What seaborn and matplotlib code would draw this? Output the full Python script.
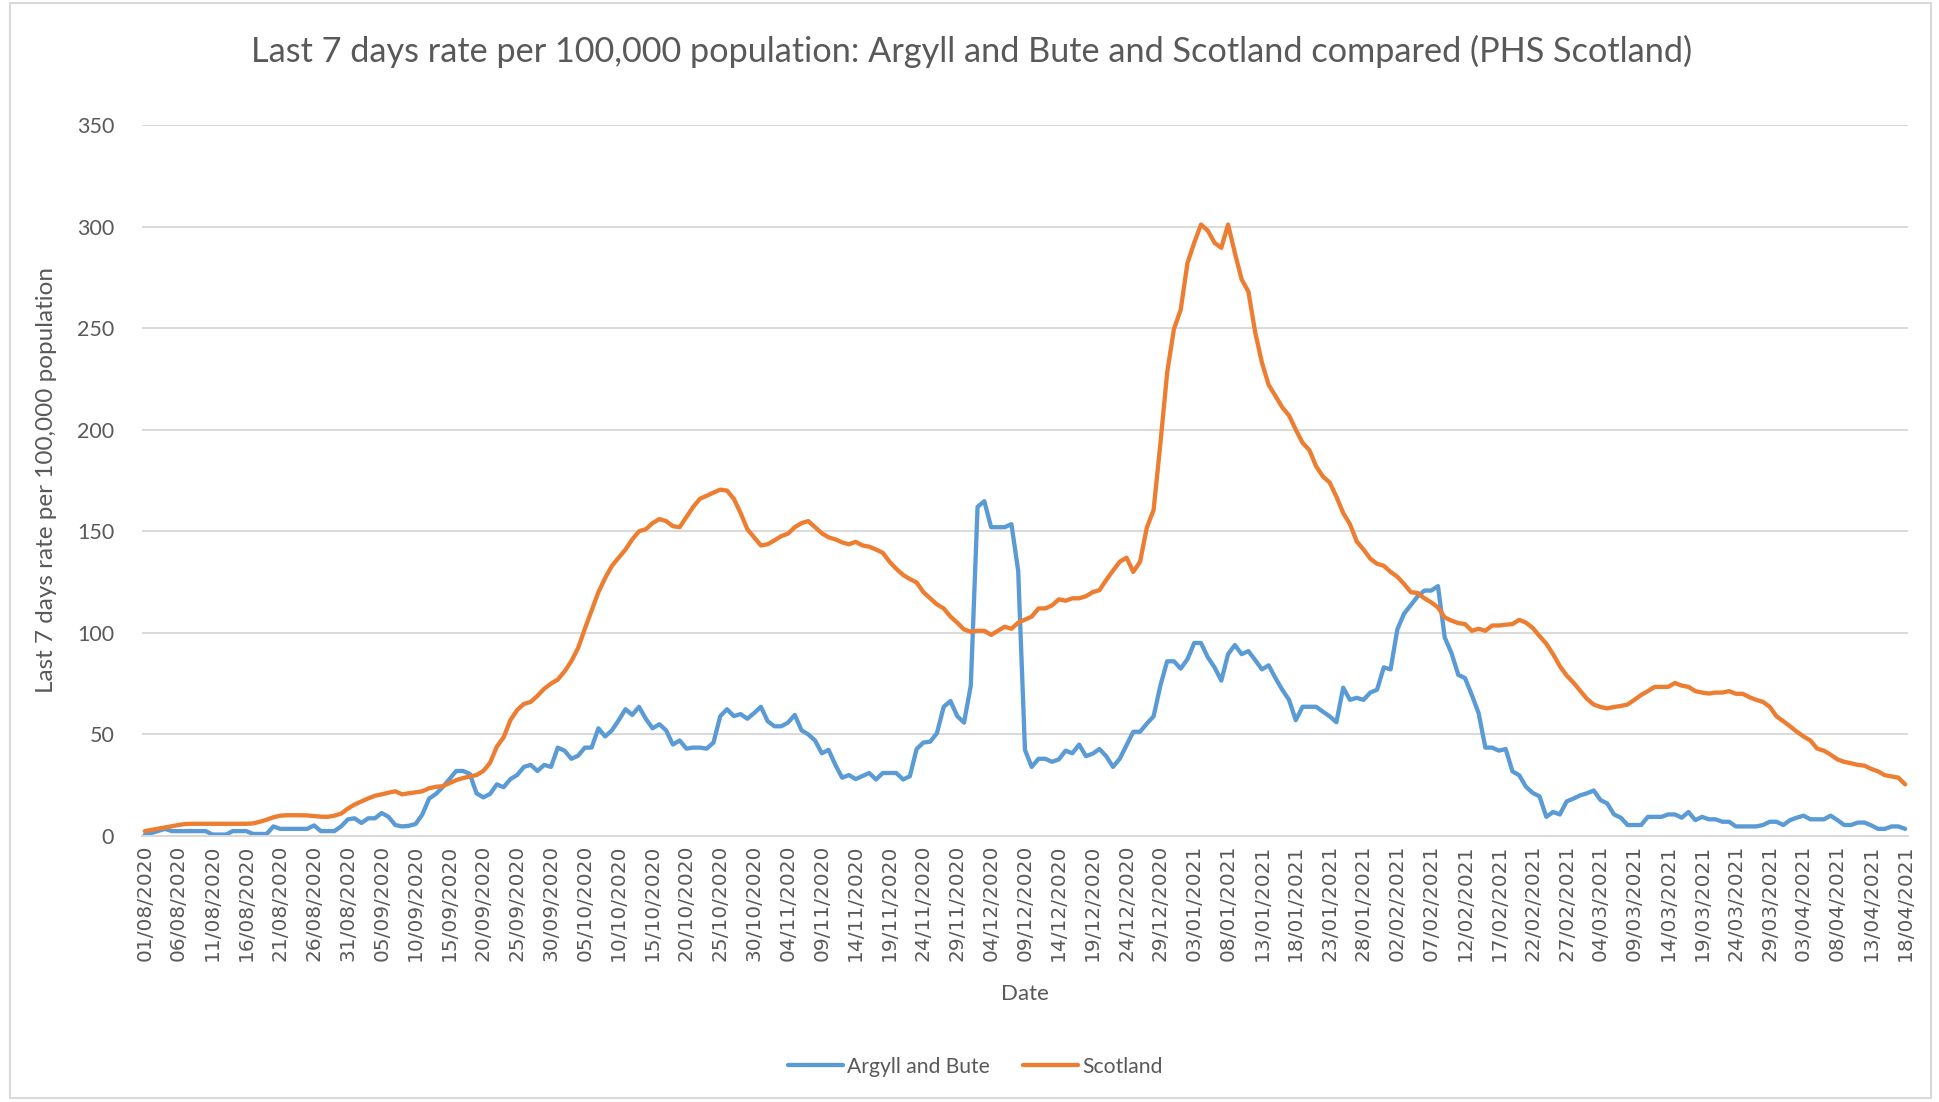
import pandas as pd
import numpy as np
import matplotlib.pyplot as plt
import matplotlib.dates as mdates
from matplotlib.patches import Rectangle
import seaborn as sns

# --- DATA (one value per day) ---
START_DATE = '2020-08-01'
END_DATE = '2021-04-18'

argyll_bute = [
    0.5, 1.5, 2.5, 3.5, 2.4, 2.4, 2.4, 2.4, 2.4, 2.4,
    0.7, 0.7, 0.7, 2.4, 2.4, 2.4, 1.0, 1.0, 1.0, 4.7,
    3.5, 3.5, 3.5, 3.5, 3.5, 5.2, 2.4, 2.4, 2.4, 4.7,
    8.2, 8.7, 6.4, 8.7, 8.7, 11.3, 9.4, 5.4, 4.7, 5.0,
    5.9, 10.6, 18.4, 20.7, 24.0, 28.0, 32.0, 32.0, 30.6, 21.0,
    19.0, 20.7, 25.4, 24.0, 28.0, 30.0, 34.0, 35.0, 32.0, 35.0,
    34.0, 43.5, 42.0, 38.0, 39.5, 43.5, 43.5, 53.0, 49.0, 52.0,
    57.0, 62.4, 59.6, 63.6, 57.7, 53.0, 55.0, 52.0, 45.0, 47.0,
    43.0, 43.5, 43.5, 43.0, 46.0, 59.0, 62.4, 59.0, 60.0, 57.7,
    60.5, 63.6, 56.5, 54.0, 54.0, 55.8, 59.6, 52.0, 50.0, 47.0,
    40.7, 42.4, 35.0, 28.7, 30.0, 28.0, 29.5, 31.0, 27.8, 31.0,
    31.0, 31.0, 27.8, 29.4, 42.8, 46.0, 46.4, 50.6, 63.6, 66.4,
    59.0, 55.8, 74.0, 162.0, 164.8, 152.0, 152.0, 152.0, 153.5, 130.6,
    42.4, 34.0, 38.0, 38.0, 36.5, 37.7, 42.0, 40.7, 45.0, 39.3,
    40.5, 42.8, 39.3, 34.0, 38.0, 44.7, 51.3, 51.3, 55.3, 58.9,
    74.0, 86.0, 86.0, 82.4, 87.0, 95.0, 95.0, 88.0, 83.0, 76.5,
    89.5, 94.0, 89.5, 91.0, 86.6, 82.0, 84.0, 77.7, 72.0, 67.0,
    57.0, 63.6, 63.6, 63.6, 61.2, 58.9, 56.0, 73.0, 67.0, 68.0,
    67.0, 70.6, 72.0, 83.0, 82.0, 101.7, 109.5, 113.7, 118.0, 120.8,
    120.8, 123.0, 97.7, 90.0, 79.3, 77.7, 69.4, 60.5, 43.5, 43.5,
    42.0, 42.8, 31.8, 29.9, 24.2, 21.2, 19.5, 9.4, 11.8, 10.6,
    17.0, 18.4, 20.0, 21.0, 22.4, 17.7, 16.0, 10.6, 9.0, 5.4,
    5.4, 5.4, 9.4, 9.4, 9.4, 10.6, 10.6, 9.0, 11.8, 7.8,
    9.4, 8.2, 8.2, 7.0, 7.0, 4.7, 4.7, 4.7, 4.7, 5.4,
    7.0, 7.0, 5.4, 7.8, 9.0, 10.0, 8.2, 8.2, 8.2, 10.0,
    7.8, 5.4, 5.4, 6.6, 6.6, 5.2, 3.5, 3.5, 4.7, 4.7,
    3.5,
]

scotland = [
    2.4, 3.0, 3.6, 4.2, 4.8, 5.4, 5.9, 6.0, 6.0, 6.0,
    6.0, 6.0, 6.0, 6.0, 6.0, 6.0, 6.2, 7.0, 8.0, 9.2,
    10.0, 10.2, 10.2, 10.2, 10.1, 9.8, 9.5, 9.4, 10.0, 11.0,
    13.5, 15.5, 17.0, 18.5, 19.8, 20.5, 21.3, 22.0, 20.5, 21.0,
    21.5, 22.0, 23.5, 24.2, 24.5, 26.0, 27.5, 28.5, 29.3, 30.0,
    32.0, 36.0, 44.0, 48.5, 57.0, 62.0, 65.0, 66.0, 69.0, 72.5,
    75.0, 77.0, 81.0, 86.0, 92.5, 102.0, 111.0, 120.0, 127.0, 133.0,
    137.0, 141.0, 146.0, 150.0, 151.0, 154.0, 156.0, 155.0, 152.5, 152.0,
    157.0, 162.0, 166.0, 167.5, 169.0, 170.5, 170.0, 166.0, 159.0, 151.0,
    147.0, 143.0, 143.6, 145.5, 147.6, 148.8, 152.0, 154.0, 155.0, 152.0,
    149.0, 147.0, 146.0, 144.5, 143.6, 144.8, 143.0, 142.4, 141.0, 139.4,
    135.0, 131.5, 128.5, 126.5, 124.8, 120.0, 117.0, 114.0, 112.0, 108.0,
    105.0, 101.7, 100.5, 101.0, 101.0, 99.0, 101.0, 103.0, 102.0, 105.0,
    106.5, 108.0, 112.0, 112.0, 113.5, 116.5, 115.8, 117.0, 117.0, 118.0,
    120.0, 121.0, 126.0, 130.6, 135.0, 137.0, 130.0, 135.0, 151.8, 160.5,
    193.0, 228.0, 249.5, 259.0, 282.0, 292.0, 301.0, 298.0, 292.0, 289.5,
    301.0, 287.0, 274.0, 268.0, 248.0, 233.0, 222.0, 216.6, 211.0, 207.0,
    200.0, 193.5, 190.0, 182.0, 177.0, 174.0, 167.0, 159.0, 153.5, 145.0,
    141.0, 136.5, 134.0, 133.0, 130.0, 127.6, 124.0, 120.0, 119.6, 117.0,
    115.0, 112.5, 107.6, 106.0, 104.8, 104.3, 101.0, 102.0, 101.0, 103.6,
    103.6, 104.0, 104.3, 106.4, 105.0, 102.4, 98.4, 94.6, 89.5, 83.6,
    79.0, 75.5, 71.5, 67.5, 64.7, 63.5, 62.8, 63.5, 64.0, 64.7,
    67.0, 69.4, 71.3, 73.4, 73.4, 73.4, 75.3, 74.0, 73.4, 71.3,
    70.6, 70.1, 70.6, 70.6, 71.3, 70.0, 70.0, 68.3, 67.0, 66.0,
    63.6, 58.9, 56.5, 54.0, 51.3, 49.0, 47.0, 43.0, 42.0, 40.0,
    37.7, 36.5, 35.8, 35.0, 34.6, 33.0, 31.8, 29.9, 29.3, 28.7,
    25.4,
]

dates = pd.date_range(START_DATE, END_DATE, freq='D')
assert len(dates) == len(argyll_bute) == len(scotland)

df = pd.DataFrame({
    'Date': np.concatenate([dates, dates]),
    'Rate': argyll_bute + scotland,
    'Area': ['Argyll and Bute'] * len(dates) + ['Scotland'] * len(dates),
})

# --- STYLE ---
BLUE = '#5B9BD5'
ORANGE = '#ED7D31'
TEXT = '#595959'
GRID = '#D9D9D9'
FONT = 'Lato'

sns.set_theme(style='white')
plt.rcParams['font.family'] = [FONT, 'DejaVu Sans']

fig = plt.figure(figsize=(19.39, 11.02), dpi=100)
ax = fig.add_axes([0.0732, 0.2414, 0.9108, 0.6452])

sns.lineplot(data=df, x='Date', y='Rate', hue='Area',
             palette={'Argyll and Bute': BLUE, 'Scotland': ORANGE},
             linewidth=3.1, ax=ax)

# axes
ax.set_ylim(0, 350)
ax.set_yticks(range(0, 351, 50))
ax.set_xlim(dates[0] - pd.Timedelta(hours=10), dates[-1] + pd.Timedelta(hours=10))
ax.set_xticks(dates[::5])
ax.xaxis.set_major_formatter(mdates.DateFormatter('%d/%m/%Y'))
ax.grid(axis='y', color=GRID, linewidth=1.4)
ax.set_axisbelow(True)
for side in ['top', 'right', 'left']:
    ax.spines[side].set_visible(False)
ax.spines['bottom'].set_color(GRID)
ax.spines['bottom'].set_linewidth(1.4)
ax.tick_params(axis='both', length=0, colors=TEXT)
ax.tick_params(axis='y', labelsize=15.5, pad=20)
ax.tick_params(axis='x', pad=6)
for lab in ax.get_xticklabels():
    lab.set_rotation(90)
    lab.set_family('DejaVu Sans')
    lab.set_fontsize(14.5)
    lab.set_color(TEXT)

ax.set_xlabel('Date', fontsize=16, color=TEXT, labelpad=17)
ax.set_ylabel('Last 7 days rate per 100,000 population', fontsize=17.5, color=TEXT, labelpad=14)
fig.suptitle('Last 7 days rate per 100,000 population: Argyll and Bute and Scotland compared (PHS Scotland)',
             x=0.501, y=0.953, va='center', fontsize=24.7, color=TEXT)

# legend under the chart
sns.move_legend(ax, 'center', bbox_to_anchor=(0.503, 0.032), bbox_transform=fig.transFigure,
                ncol=2, frameon=False, title=None, fontsize=15.2,
                handlelength=2.6, handletextpad=0.2, columnspacing=1.6)
for lab in ax.get_legend().get_texts():
    lab.set_color(TEXT)

# chart frame
fig.patches.append(Rectangle((0.005, 0.004), 0.991, 0.993, transform=fig.transFigure,
                             fill=False, edgecolor=GRID, linewidth=1.5))

fig.savefig('out.png', dpi=100)
